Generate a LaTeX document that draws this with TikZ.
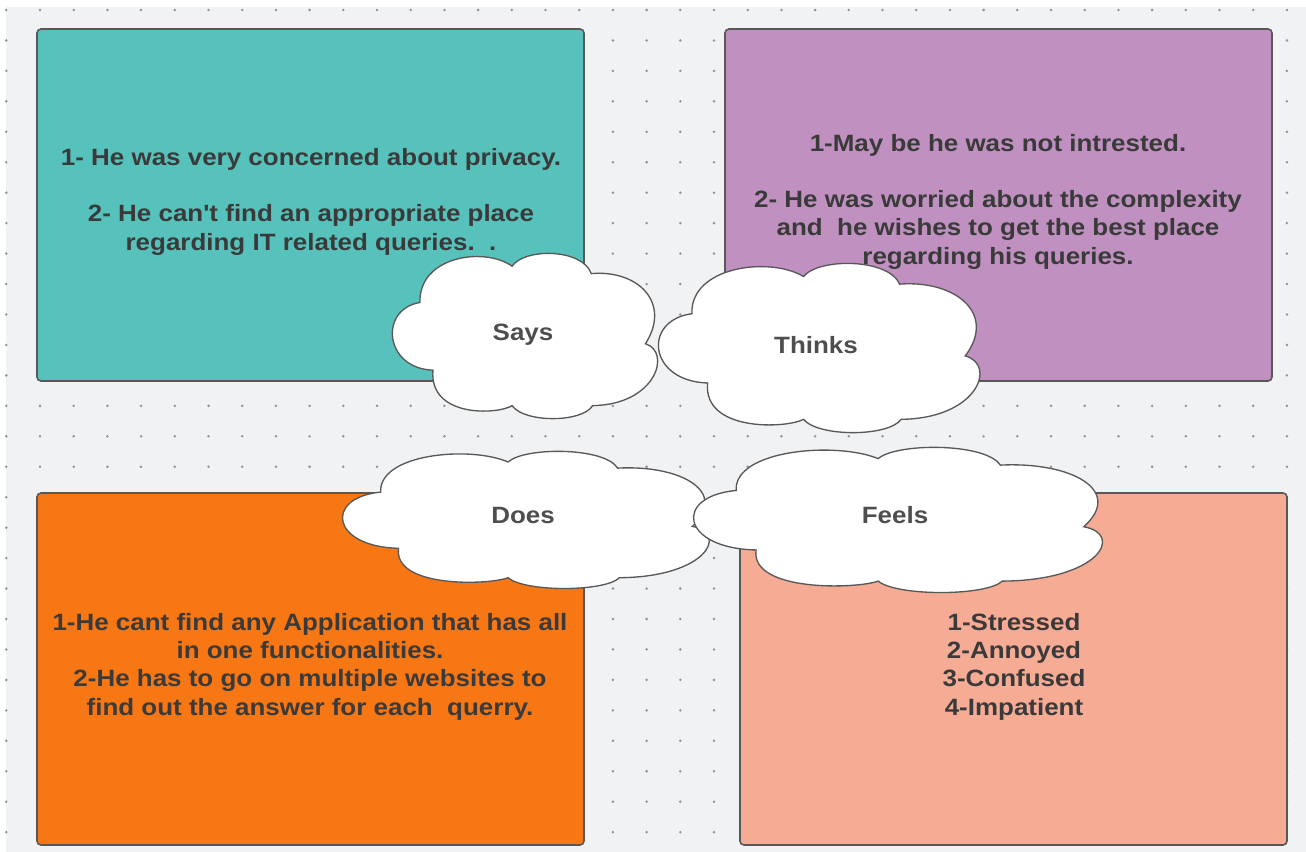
\documentclass[tikz,border=0pt]{standalone}
\usepackage{fontspec}
\setmainfont{Liberation Sans}
\usepackage{graphicx}
\definecolor{bggray}{HTML}{F1F2F4}
\definecolor{dotgray}{HTML}{8E949E}
\definecolor{edgegray}{HTML}{585858}
\definecolor{txtgray}{HTML}{3A3A3A}
\definecolor{labelgray}{HTML}{4E4E4E}
\definecolor{saysteal}{HTML}{57C1BC}
\definecolor{thinkspurple}{HTML}{C091C0}
\definecolor{doesorange}{HTML}{F77714}
\definecolor{feelssalmon}{HTML}{F6AB95}
\newcommand{\widetext}[1]{\scalebox{1.1}[1]{\begin{tabular}{@{}c@{}}#1\end{tabular}}}
\newcommand{\straightq}{\XeTeXglyph\XeTeXglyphindex "quotesingle"\relax}
\tikzset{
  pics/lucidcloud/.style={code={
    \draw[cloudline] (0.155,0.71) .. controls (-0.03,0.70) and (-0.05,0.34) .. (0.106,0.30)
      .. controls (0.10,0.02) and (0.35,-0.04) .. (0.455,0.08)
      .. controls (0.50,-0.03) and (0.72,-0.03) .. (0.755,0.125)
      .. controls (0.93,0.10) and (1.06,0.30) .. (0.96,0.55)
      .. controls (1.06,0.60) and (1.0,0.92) .. (0.76,0.925)
      .. controls (0.72,1.03) and (0.50,1.03) .. (0.455,0.925)
      .. controls (0.40,0.98) and (0.14,1.0) .. (0.155,0.71) -- cycle;
  }}
}
\begin{document}
\begin{tikzpicture}[x=0.75pt, y=-0.75pt,
    quadrant/.style={draw=edgegray, line width=1.2pt, rounded corners=3},
    cloudline/.style={draw=edgegray, fill=white, line width=1pt},
    boxtext/.style={font=\fontsize{17.7}{21.2}\selectfont\bfseries, text=txtgray, inner sep=0},
    cloudlabel/.style={font=\fontsize{17.7}{21.2}\selectfont\bfseries, text=labelgray, inner sep=0}]
  \useasboundingbox (0,0) rectangle (1306,852);
  \fill[bggray] (6,7) rectangle (1306,852);
  \foreach \i in {0,...,38}
    \foreach \j in {0,...,27}
      \fill[dotgray] (6.3+33.7*\i, 10+30.45*\j) circle (1.4);

  \draw[quadrant, fill=saysteal] (37,29) rectangle (584,381);
  \draw[quadrant, fill=thinkspurple] (725,29) rectangle (1272,381);
  \draw[quadrant, fill=doesorange] (37,493) rectangle (584,845);
  \draw[quadrant, fill=feelssalmon] (740,493) rectangle (1287,845);

  \node[boxtext] (saystext) at (311,202) {\widetext{1- He was very concerned about privacy.\\ \\ 2- He can\straightq t find an appropriate place\\ regarding IT related queries.\ \ .}};
  \node[boxtext] (thinkstext) at (998,202) {\widetext{1-May be he was not intrested.\\ \\ 2- He was worried about the complexity\\ and\ \ he wishes to get the best place\\ regarding his queries.}};
  \node[boxtext] (doestext) at (310,667) {\widetext{1-He cant find any Application that has all\\ in one functionalities.\\ 2-He has to go on multiple websites to\\ find out the answer for each\ \ querry.}};
  \node[boxtext] (feelstext) at (1014,667) {\widetext{1-Stressed\\ 2-Annoyed\\ 3-Confused\\ 4-Impatient}};

  \pic[xscale=264, yscale=165] at (392,253) {lucidcloud};
  \pic[xscale=320, yscale=169] at (658,263) {lucidcloud};
  \pic[xscale=365, yscale=137] at (342,451) {lucidcloud};
  \pic[xscale=407, yscale=145] at (693,447) {lucidcloud};

  \node[cloudlabel] (says) at (523,335) {\widetext{Says}};
  \node[cloudlabel] (thinks) at (816,348) {\widetext{Thinks}};
  \node[cloudlabel] (does) at (523,518) {\widetext{Does}};
  \node[cloudlabel] (feels) at (895,518) {\widetext{Feels}};
\end{tikzpicture}
\end{document}
